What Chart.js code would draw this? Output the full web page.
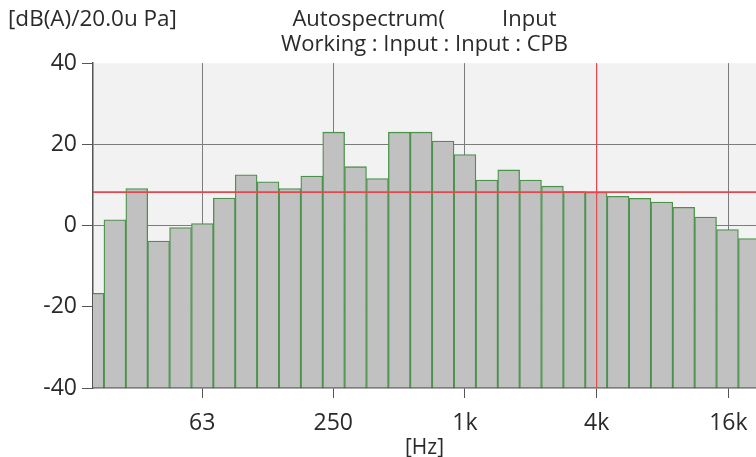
<!DOCTYPE html>
<html>
<head>
<meta charset="utf-8">
<script src="https://cdn.jsdelivr.net/npm/chart.js@4/dist/chart.umd.min.js"></script>
<style>
  html, body { margin: 0; padding: 0; background: #ffffff; }
  #wrap { width: 756px; height: 457px; }
</style>
</head>
<body>
<div id="wrap"><canvas id="c" width="756" height="457"></canvas></div>
<script>
// 1/3-octave band nominal labels and exact centre frequencies (Hz)
const bandLabels = ['20','25','31.5','40','50','63','80','100','125','160','200','250','315','400','500','630','800','1k','1.25k','1.6k','2k','2.5k','3.15k','4k','5k','6.3k','8k','10k','12.5k','16k','20k'];
const bandCenters = [19.95,25.12,31.62,39.81,50.12,63.10,79.43,100.0,125.9,158.5,199.5,251.2,316.2,398.1,501.2,631.0,794.3,1000,1259,1585,1995,2512,3162,3981,5012,6310,7943,10000,12589,15849,19953];
// band levels dB(A)
const levels = [-16.7,1.4,9.1,-3.8,-0.5,0.5,6.8,12.5,10.8,9.1,12.2,23.0,14.5,11.6,23.0,23.0,20.8,17.5,11.2,13.7,11.2,9.7,8.4,8.2,7.2,6.7,5.8,4.5,2.1,-1.0,-3.2];
// axis ticks
const xTickFreqs = [63, 250, 1000, 4000, 16000];
const xTickLabels = ['63', '250', '1k', '4k', '16k'];
const yTicks = [-40, -20, 0, 20, 40];
// cursors
const cursorFreq = 4000;
const cursorLevel = 8.25;
const xMin = 19.95, xMax = 21400, yMin = -40, yMax = 40;

const FONT = "'Open Sans', 'Noto Sans', sans-serif";
const TXT = '#2a2a2a';

const plotBg = {
  id: 'plotBg',
  beforeDraw(chart) {
    const {ctx, chartArea: a} = chart;
    ctx.save();
    ctx.fillStyle = '#f2f2f2';
    ctx.fillRect(a.left, a.top, a.right - a.left, a.bottom - a.top);
    ctx.restore();
  },
  afterDraw(chart) {
    const {ctx} = chart;
    ctx.save();
    ctx.fillStyle = TXT;
    ctx.font = "22.5px " + FONT;
    ctx.textAlign = 'left';
    ctx.textBaseline = 'middle';
    ctx.fillText('[dB(A)/20.0u Pa]', 8, 20);
    ctx.restore();
  }
};

const barData = bandCenters.map((f, i) => ({x: f, y: levels[i]}));

new Chart(document.getElementById('c'), {
  data: {
    datasets: [
      {
        type: 'bar',
        label: 'Input',
        data: barData,
        base: yMin,
        backgroundColor: '#c1c1c1',
        borderColor: '#4b924b',
        borderWidth: 1.3,
        barPercentage: 1,
        categoryPercentage: 1,
        order: 3
      },
      {
        type: 'line',
        label: 'level cursor',
        data: [{x: xMin, y: cursorLevel}, {x: xMax, y: cursorLevel}],
        borderColor: '#e5484c',
        borderWidth: 1.6,
        pointRadius: 0,
        order: 1
      },
      {
        type: 'line',
        label: 'frequency cursor',
        data: [{x: cursorFreq, y: yMin}, {x: cursorFreq, y: yMax}],
        borderColor: '#e5484c',
        borderWidth: 1.2,
        pointRadius: 0,
        order: 2
      }
    ]
  },
  options: {
    responsive: false,
    animation: false,
    layout: { padding: 0 },
    plugins: {
      legend: { display: false },
      tooltip: { enabled: false },
      title: {
        display: true,
        fullSize: false,
        text: ['Autospectrum(          Input', 'Working : Input : Input : CPB'],
        color: TXT,
        font: { family: FONT, size: 22, weight: 'normal', lineHeight: 1.14 },
        padding: { top: 7, bottom: 6 }
      }
    },
    scales: {
      x: {
        type: 'logarithmic',
        min: xMin,
        max: xMax,
        offset: false,
        afterBuildTicks(scale) { scale.ticks = xTickFreqs.map(v => ({value: v})); },
        afterFit(scale) { scale.height = 69; scale.paddingLeft = 0; scale.paddingRight = 0; },
        ticks: {
          autoSkip: false,
          maxRotation: 0,
          padding: 12,
          color: TXT,
          font: { family: FONT, size: 23 },
          callback: (v, i) => xTickLabels[i]
        },
        grid: {
          offset: false,
          color: ctx => (ctx.tick && ctx.tick.value === cursorFreq) ? '#e5484c' : '#7c7c7c',
          lineWidth: 1,
          tickLength: 10,
          tickColor: '#555555'
        },
        border: { display: true, color: '#555555', width: 1.5 },
        title: {
          display: true,
          text: '[Hz]',
          color: TXT,
          font: { family: FONT, size: 21 },
          padding: { top: 0, bottom: -4 }
        }
      },
      y: {
        type: 'linear',
        min: yMin,
        max: yMax,
        afterBuildTicks(scale) { scale.ticks = yTicks.map(v => ({value: v})); },
        afterFit(scale) { scale.width = 93; },
        ticks: {
          padding: 5,
          color: TXT,
          font: { family: FONT, size: 23 }
        },
        grid: {
          color: ctx => (ctx.tick && (ctx.tick.value === yMax || ctx.tick.value === yMin)) ? 'rgba(0,0,0,0)' : '#7c7c7c',
          lineWidth: 1,
          tickLength: 11,
          tickColor: '#555555'
        },
        border: { display: true, color: '#555555', width: 1.5 }
      }
    }
  },
  plugins: [plotBg]
});
</script>
</body>
</html>
